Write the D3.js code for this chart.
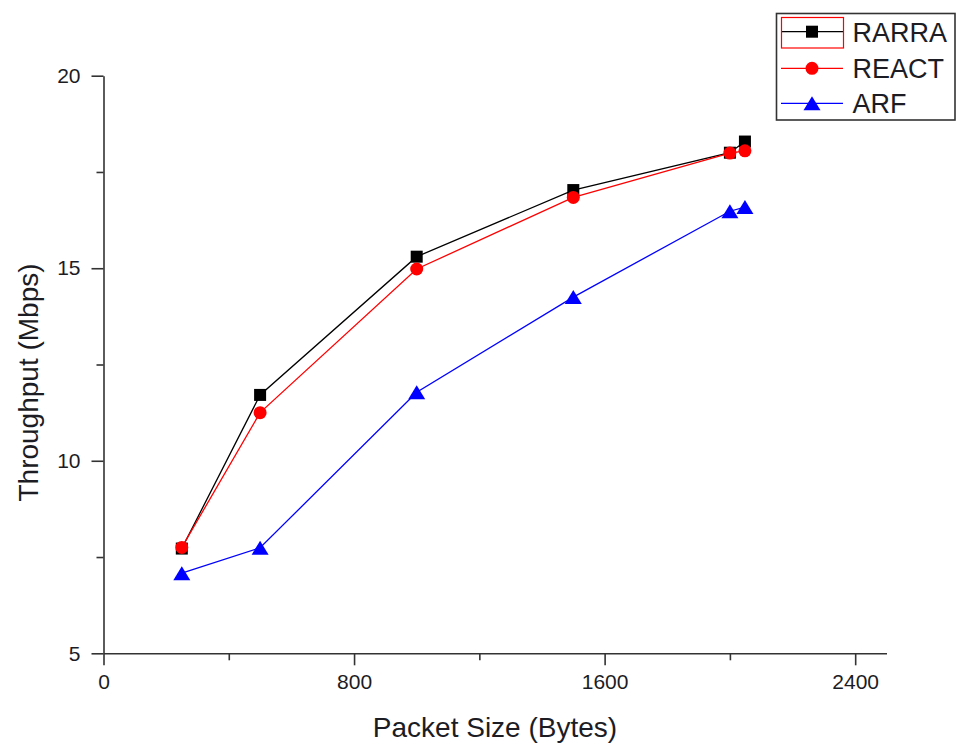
<!DOCTYPE html>
<html>
<head>
<meta charset="utf-8">
<script src="https://cdn.jsdelivr.net/npm/d3@7"></script>
<style>
  html, body { margin: 0; padding: 0; background: #fff; }
  svg { display: block; font-family: "Liberation Sans", Arial, sans-serif; }
</style>
</head>
<body>
<svg id="chart" width="958" height="743"></svg>
<script>
// Throughput vs packet size for three routing schemes
const packetSizes = [250, 500, 1000, 1500, 2000, 2048];
const rarra = [7.72, 11.71, 15.3, 17.03, 18.0, 18.29];
const react = [7.75, 11.25, 14.98, 16.84, 17.99, 18.05];
const arf   = [7.08, 7.74, 11.78, 14.25, 16.48, 16.59];

const seriesNames = ["RARRA", "REACT", "ARF"];
const seriesColors = ["#000000", "#ff0000", "#0000ff"];
const seriesShapes = ["square", "circle", "triangle"];
const seriesValues = [rarra, react, arf];

const xMajorTicks = [0, 800, 1600, 2400];
const xMinorTicks = [400, 1200, 2000];
const yMajorTicks = [5, 10, 15, 20];
const yMinorTicks = [7.5, 12.5, 17.5];

const xTitle = "Packet Size (Bytes)";
const yTitle = "Throughput (Mbps)";

const svg = d3.select("#chart");
const plot = { left: 103.5, right: 886.5, top: 75.7, bottom: 653.3 };

const x = d3.scaleLinear().domain([0, 2500]).range([plot.left, plot.right]);
const y = d3.scaleLinear().domain([5, 20]).range([plot.bottom, plot.top]);

const axisColor = "#333";
const textColor = "#1c1c24";
const plain = d3.format("d");

// X axis: major ticks with labels, minor ticks without
const gx = svg.append("g").attr("transform", `translate(0,${plot.bottom})`);
gx.call(d3.axisBottom(x).tickValues(xMajorTicks).tickFormat(plain).tickSize(12).tickPadding(9).tickSizeOuter(0));
gx.append("g").call(d3.axisBottom(x).tickValues(xMinorTicks).tickSize(7).tickFormat("").tickSizeOuter(0))
  .select(".domain").remove();

// Y axis
const gy = svg.append("g").attr("transform", `translate(${plot.left},0)`);
gy.call(d3.axisLeft(y).tickValues(yMajorTicks).tickFormat(plain).tickSize(12).tickPadding(11).tickSizeOuter(0));
gy.append("g").call(d3.axisLeft(y).tickValues(yMinorTicks).tickSize(7).tickFormat("").tickSizeOuter(0))
  .select(".domain").remove();

svg.selectAll(".domain").attr("stroke", axisColor).attr("stroke-width", 1.6);
svg.selectAll(".tick line").attr("stroke", axisColor).attr("stroke-width", 1.6);
svg.selectAll(".tick text")
  .attr("fill", textColor)
  .style("font-size", "21px")
  .style("font-family", "'Liberation Sans', Arial, sans-serif");

// Axis titles
svg.append("text")
  .attr("x", (x(0) + x(2500)) / 2)
  .attr("y", 737)
  .attr("text-anchor", "middle")
  .attr("fill", textColor)
  .style("font-size", "28px")
  .text(xTitle);

svg.append("text")
  .attr("transform", `translate(38,${(plot.top + plot.bottom) / 2 + 18}) rotate(-90)`)
  .attr("text-anchor", "middle")
  .attr("fill", textColor)
  .style("font-size", "28px")
  .text(yTitle);

// Marker drawing
function drawMarker(g, shape, color, cx, cy) {
  if (shape === "square") {
    g.append("rect").attr("x", cx - 6).attr("y", cy - 6).attr("width", 12).attr("height", 12).attr("fill", color);
  } else if (shape === "circle") {
    g.append("circle").attr("cx", cx).attr("cy", cy).attr("r", 6.5).attr("fill", color);
  } else {
    const w = 17, h = 14;
    g.append("path")
      .attr("d", `M${cx},${cy - h / 2}L${cx + w / 2},${cy + h / 2}L${cx - w / 2},${cy + h / 2}Z`)
      .attr("fill", color);
  }
}

const line = d3.line().x(d => x(d[0])).y(d => y(d[1]));

seriesValues.forEach((vals, i) => {
  const pts = packetSizes.map((s, j) => [s, vals[j]]);
  const g = svg.append("g");
  g.append("path").attr("d", line(pts)).attr("fill", "none")
    .attr("stroke", seriesColors[i]).attr("stroke-width", 1.3);
  pts.forEach(p => drawMarker(g, seriesShapes[i], seriesColors[i], x(p[0]), y(p[1])));
});

// Legend
const legend = svg.append("g");
legend.append("rect")
  .attr("x", 776.5).attr("y", 13.5).attr("width", 178.5).attr("height", 106.5)
  .attr("fill", "#fff").attr("stroke", "#333").attr("stroke-width", 1.6);

const legendRows = [31.7, 68.3, 103.3];
seriesNames.forEach((name, i) => {
  const ly = legendRows[i];
  legend.append("line").attr("x1", 781).attr("x2", 843).attr("y1", ly).attr("y2", ly)
    .attr("stroke", seriesColors[i]).attr("stroke-width", 1.3);
  drawMarker(legend, seriesShapes[i], seriesColors[i], 812, ly);
  legend.append("text").attr("x", 852.5).attr("y", ly + 10)
    .attr("fill", textColor).style("font-size", "27px").text(name);
});
// selection frame around the first legend symbol
legend.append("rect")
  .attr("x", 781.5).attr("y", 17.5).attr("width", 62).attr("height", 30.5)
  .attr("fill", "none").attr("stroke", "#ff0000").attr("stroke-width", 1.2);
</script>
</body>
</html>
